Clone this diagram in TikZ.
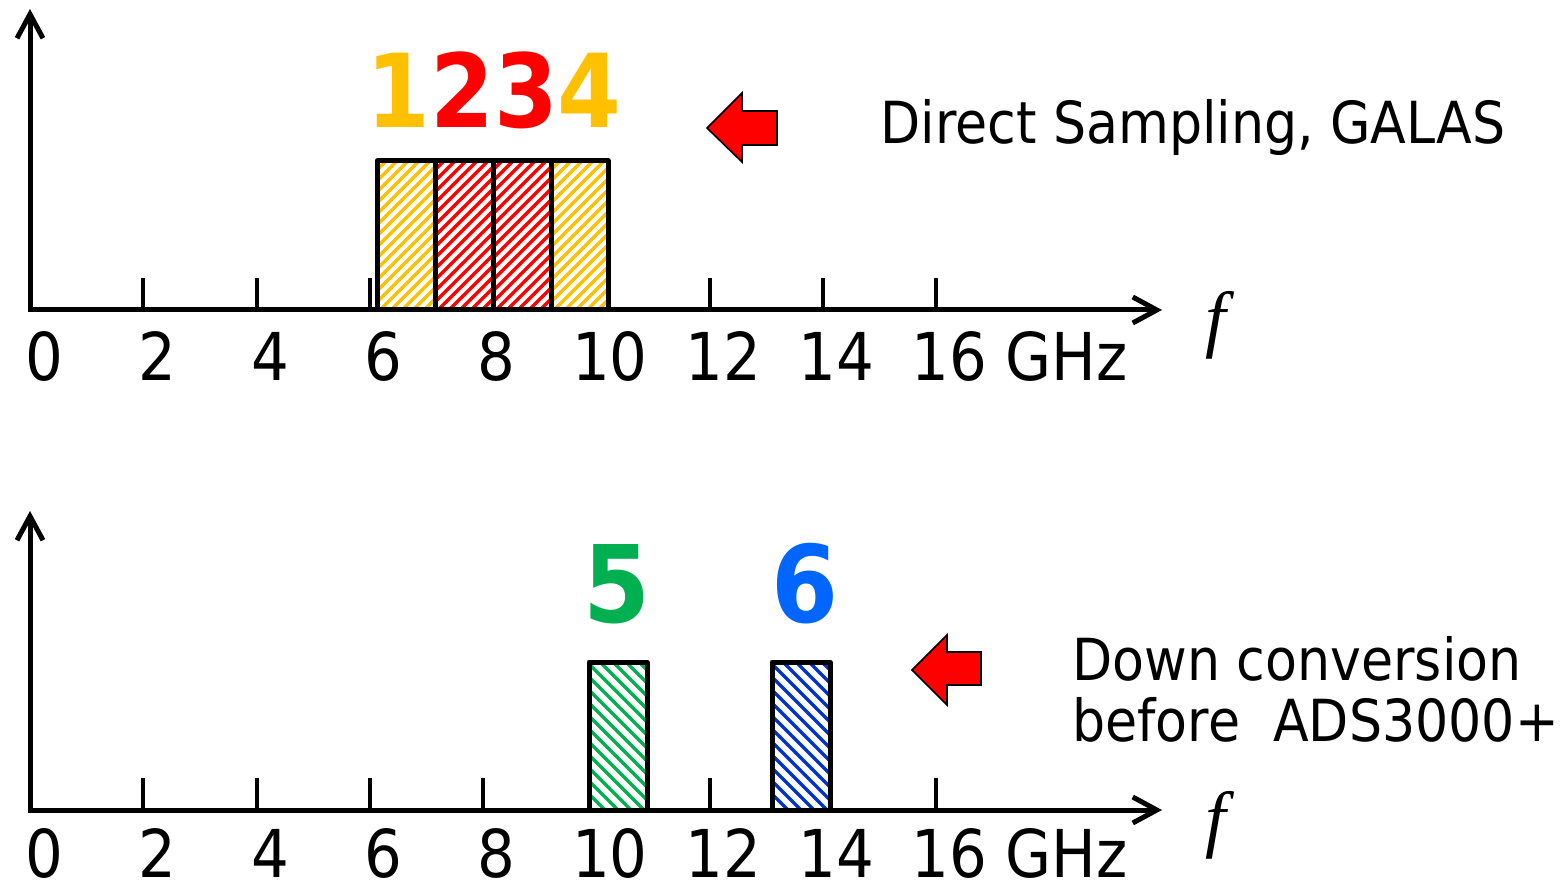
\documentclass[tikz,border=0pt]{standalone}
\usepackage{fontspec}
\setmainfont{DejaVu Sans Condensed}
\newfontfamily\boldnum{DejaVu Sans Condensed Bold}
\newfontfamily\varfont{Liberation Serif}
\usetikzlibrary{arrows.meta}
\definecolor{amber}{HTML}{FFC000}
\definecolor{brightred}{HTML}{FF0000}
\definecolor{bandgreen}{HTML}{00B050}
\definecolor{skyblue}{HTML}{0066FF}
\definecolor{hatchblue}{HTML}{0033CC}

% band with rising hatch lines: colour, left, top, right, bottom
\newcommand\bandup[5]{%
  \fill[white] (#2,#3) rectangle (#4,#5);
  \begin{scope}
    \clip (#2,#3) rectangle (#4,#5);
    \foreach \s in {-198,-187,...,70}
      \draw[#1,hatchline] ({#2+\s},{#5+3}) -- ++(200,-200);
  \end{scope}
  \draw[band] (#2,#3) rectangle (#4,#5);
}
% band with falling hatch lines: colour, left, top, right, bottom
\newcommand\banddown[5]{%
  \fill[white] (#2,#3) rectangle (#4,#5);
  \begin{scope}
    \clip (#2,#3) rectangle (#4,#5);
    \foreach \s in {-200,-187,...,75}
      \draw[#1,hatchline,line width=1.75pt] ({#2+\s},{#3-3}) -- ++(200,200);
  \end{scope}
  \draw[band] (#2,#3) rectangle (#4,#5);
}

\begin{document}
\begin{tikzpicture}[x=0.5pt,y=-0.5pt,
  axisline/.style={line width=2.5pt,
    -{Straight Barb[length=12pt,width=13pt,line width=2.5pt]}},
  tickmark/.style={line width=2pt},
  band/.style={draw=black,line width=2.5pt,line join=round},
  hatchline/.style={line width=1.6pt},
  ticklabel/.style={inner sep=0pt,anchor=base,font=\fontsize{33}{38}\selectfont},
  unitlabel/.style={inner sep=0pt,anchor=base west,font=\fontsize{33}{38}\selectfont},
  caption/.style={inner sep=0pt,anchor=base west,font=\fontsize{29}{34}\selectfont},
  bignum/.style={inner sep=0pt,anchor=base,font=\boldnum\fontsize{#1}{#1}\selectfont},
  freqsym/.style={inner sep=0pt,font=\varfont\itshape\fontsize{37}{40}\selectfont},
  pointer/.style={fill=brightred,draw=black,line width=0.8pt,line join=miter}]

\useasboundingbox (0,0) rectangle (1568,887);

% ---------- upper spectrum ----------
\coordinate (o1) at (30,310);
\coordinate (y1) at (30,9);
\coordinate (x1) at (1162,310);
\draw[axisline] (o1) -- (y1);
\draw[axisline] ([xshift=-1.25pt]o1) -- (x1);
\foreach \k in {1,...,8}
  \draw[tickmark] ({30+113.3*\k},278) -- ({30+113.3*\k},310);
\foreach \k/\lab in {0/0,1/2,2/4,3/6,4/8,5/10,6/12,7/14}
  \node[ticklabel] (u\k) at ({44+113.2*\k},380) {\lab};
\node[unitlabel] (u8) at (911,380) {16 GHz};
\node[freqsym] (f1) at (1216,325) {f};

\bandup{amber}{377}{161}{435}{310}
\bandup{brightred}{435}{161}{493}{310}
\bandup{brightred}{493}{161}{551}{310}
\bandup{amber}{551}{161}{608}{310}

\node[bignum=51] (n1234) at (494,128)
  {\textcolor{amber}{1}\textcolor{brightred}{23}\textcolor{amber}{4}};

\draw[pointer] (707,128) -- (742,93) -- (742,111) -- (777,111)
  -- (777,145) -- (742,145) -- (742,162) -- cycle;
\node[caption] (t1) at (880,144) {Direct Sampling, GALAS};

% ---------- lower spectrum ----------
\coordinate (o2) at (30,810);
\coordinate (y2) at (30,511);
\coordinate (x2) at (1162,810);
\draw[axisline] (o2) -- (y2);
\draw[axisline] ([xshift=-1.25pt]o2) -- (x2);
\foreach \k in {1,...,8}
  \draw[tickmark] ({30+113.3*\k},778) -- ({30+113.3*\k},810);
\foreach \k/\lab in {0/0,1/2,2/4,3/6,4/8,5/10,6/12,7/14}
  \node[ticklabel] (l\k) at ({44+113.2*\k},877) {\lab};
\node[unitlabel] (l8) at (911,877) {16 GHz};
\node[freqsym] (f2) at (1216,825) {f};

\banddown{bandgreen}{589}{662}{647}{810}
\banddown{hatchblue}{772}{662}{830}{810}

\node[bignum=53.5] (n5) at (617,622) {\textcolor{bandgreen}{5}};
\node[bignum=53.5] (n6) at (805,622) {\textcolor{skyblue}{6}};

\draw[pointer] (912,670) -- (947,635) -- (947,652) -- (981,652)
  -- (981,685) -- (947,685) -- (947,705) -- cycle;
\node[caption] (t2) at (1072,680) {Down conversion};
\node[caption] (t3) at (1072,741) {before~ ADS3000+};
\end{tikzpicture}
\end{document}
